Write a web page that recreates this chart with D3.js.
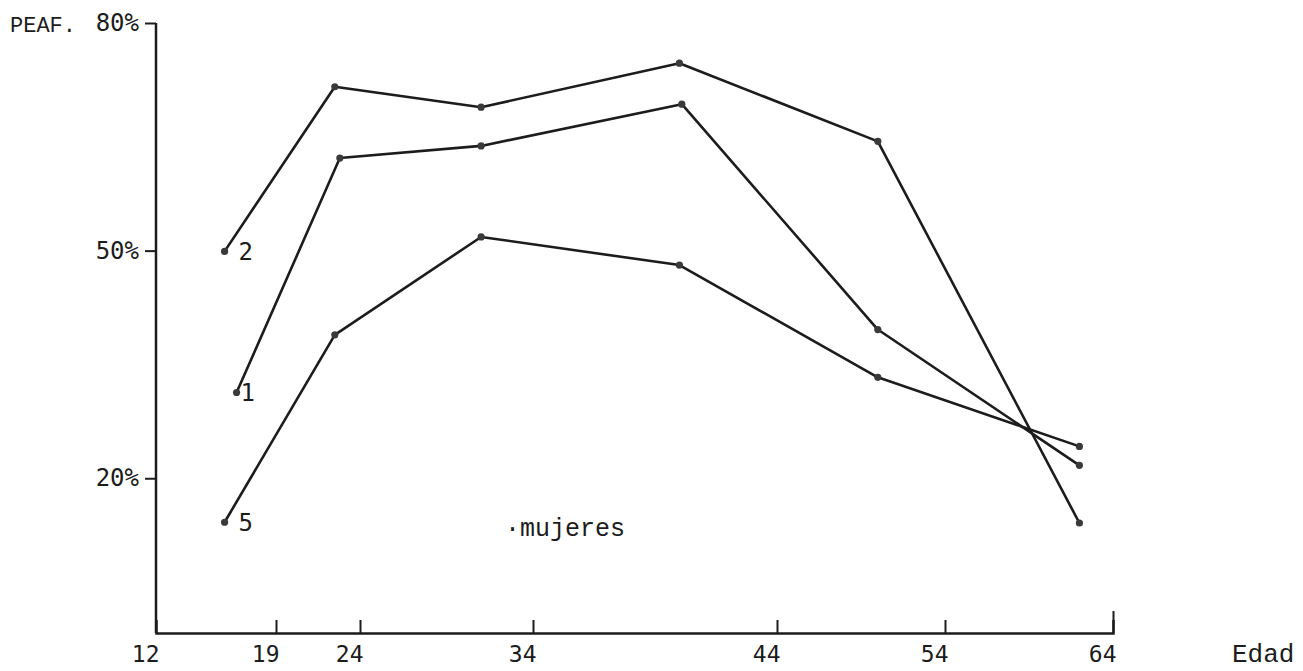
<!DOCTYPE html>
<html>
<head>
<meta charset="utf-8">
<script src="https://cdn.jsdelivr.net/npm/d3@7"></script>
<style>
  body { margin: 0; background: #fff; }
  svg { display: block; }
</style>
</head>
<body>
<div id="chart"></div>
<script>
// values (PEAF mujeres por edad)
const xTicks = [12, 19, 24, 34, 44, 54, 64];
const yTicks = [20, 50, 80];
const edades = [16, 22.5, 31, 40, 50, 62];
const edades1 = [16.7, 22.8, 31, 40.1, 50, 62];
const serie2 = [49.9, 71.6, 68.9, 74.7, 64.4, 14.1];
const serie1 = [31.3, 62.2, 63.8, 69.3, 39.6, 21.7];
const serie5 = [14.2, 38.9, 51.8, 48.1, 33.3, 24.2];
const nombres = ["2", "1", "5"];

const width = 1303, height = 671;
const axisY = 633;

const svg = d3.select("#chart").append("svg")
  .attr("width", width).attr("height", height);

// hand drawn axis is not evenly spaced, so map each tick to its place
const x = d3.scaleLinear()
  .domain(xTicks)
  .range([156, 276, 360, 533, 777, 945, 1113]);

const y = d3.scaleLinear().domain([0, 80]).range([630, 23]);

const ink = "#1c1c1c";
const mono = "'DejaVu Sans Mono', monospace";
const typewriter = "'Liberation Mono', 'Courier New', monospace";

// y axis
svg.append("line")
  .attr("x1", x(12)).attr("x2", x(12))
  .attr("y1", y(80)).attr("y2", axisY)
  .attr("stroke", ink).attr("stroke-width", 2.5);

const yAxis = svg.append("g")
  .attr("transform", `translate(${x(12)},0)`)
  .call(d3.axisLeft(y).tickValues(yTicks).tickSize(11).tickPadding(6).tickFormat(d => d + "%"));
yAxis.select(".domain").remove();
yAxis.selectAll(".tick line").attr("stroke", ink).attr("stroke-width", 2);
yAxis.selectAll(".tick text")
  .attr("font-family", mono).attr("font-size", 24).attr("fill", ink);

// x axis
const xAxis = svg.append("g")
  .attr("transform", `translate(0,${axisY})`)
  .call(d3.axisBottom(x).tickValues(xTicks).tickSize(-13).tickPadding(0));
xAxis.select(".domain").attr("stroke", ink).attr("stroke-width", 2.5);
xAxis.selectAll(".tick line").attr("stroke", ink).attr("stroke-width", 2)
  .filter(d => d === 12).remove();
xAxis.selectAll(".tick line").filter(d => d === 64).attr("y2", -22);
xAxis.selectAll(".tick text")
  .attr("font-family", mono).attr("font-size", 23).attr("fill", ink)
  .attr("text-anchor", "end").attr("x", 3).attr("y", 29).attr("dy", 0);

svg.append("text")
  .attr("x", 10).attr("y", y(80) + 9)
  .attr("font-family", typewriter).attr("font-size", 22)
  .attr("fill", ink)
  .text("PEAF.");

svg.append("text")
  .attr("x", 1232).attr("y", 662)
  .attr("font-family", typewriter).attr("font-size", 26).attr("fill", ink)
  .text("Edad");

// series
const series = [
  { name: nombres[0], ages: edades, values: serie2 },
  { name: nombres[1], ages: edades1, values: serie1 },
  { name: nombres[2], ages: edades, values: serie5 }
];

const line = d3.line()
  .x(d => x(d[0]))
  .y(d => y(d[1]));

series.forEach(s => {
  const pts = s.ages.map((a, i) => [a, s.values[i]]);
  svg.append("path")
    .datum(pts)
    .attr("d", line)
    .attr("fill", "none")
    .attr("stroke", ink)
    .attr("stroke-width", 2.6)
    .attr("stroke-linejoin", "round");

  svg.selectAll(null)
    .data(pts)
    .join("circle")
    .attr("cx", d => x(d[0]))
    .attr("cy", d => y(d[1]))
    .attr("r", 3.6)
    .attr("fill", "#3a3a3a");

  svg.append("text")
    .attr("x", x(pts[0][0]) + (s.name === "1" ? 4 : 14))
    .attr("y", y(pts[0][1]))
    .attr("dy", "0.36em")
    .attr("font-family", mono).attr("font-size", 24).attr("fill", ink)
    .text(s.name);
});

svg.append("text")
  .attr("x", 505).attr("y", 536)
  .attr("font-family", typewriter).attr("font-size", 25).attr("fill", ink)
  .text("\u00b7mujeres");
</script>
</body>
</html>
